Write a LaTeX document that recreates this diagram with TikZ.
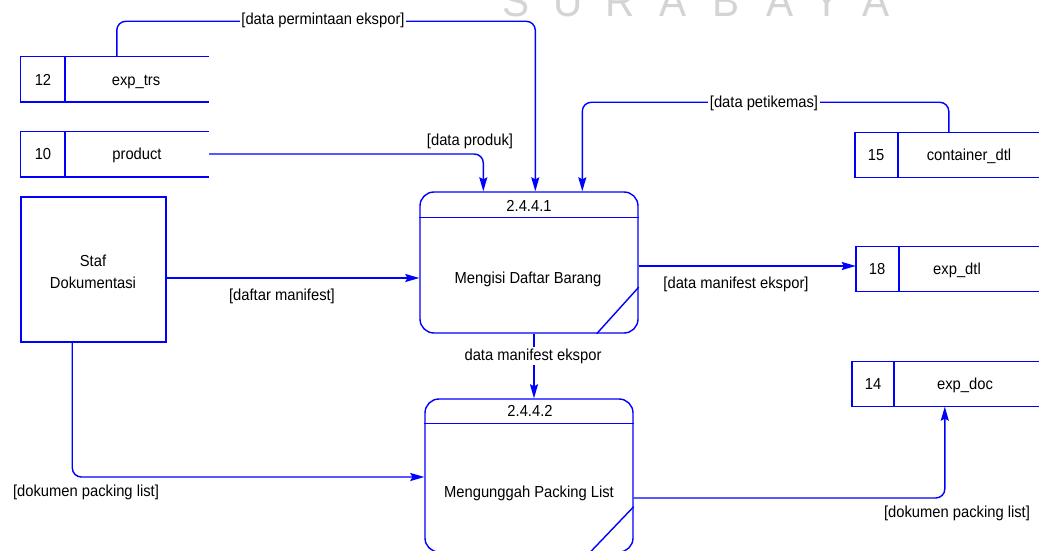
\documentclass[tikz,border=0pt]{standalone}
\usepackage{fontspec}
\setmainfont{Liberation Sans}[FakeStretch=0.925]
\usetikzlibrary{arrows.meta,calc}
\definecolor{dfd}{RGB}{0,0,255}
\definecolor{wm}{RGB}{212,212,212}
\begin{document}
\begin{tikzpicture}[x=1bp,y=-1bp,
  every node/.style={font=\fontsize{16}{18}\selectfont, inner sep=1bp, text=black, text height=11.5bp, text depth=0bp},
  ln/.style={draw=dfd, line width=1.4bp},
  flow/.style={ln, rounded corners=9bp, -{Stealth[length=14bp,width=8bp,inset=2bp]}},
  lbl/.style={fill=white, inner sep=1.5bp, text depth=3bp},
  proc/.style={ln, rounded corners=14bp, inner sep=0pt},
  store/.style={inner sep=0pt, minimum height=45bp},
  wmark/.style={font=\fontsize{44}{44}\selectfont, text=wm, anchor=base, inner sep=0pt, text height=32bp}
]
\useasboundingbox (0,0) rectangle (1039,551);
\clip (0,0) rectangle (1039,551);

% watermark
\node[wmark] (w1) at (516,17) {S};
\node[wmark] (w2) at (568,17) {U};
\node[wmark] (w3) at (620,17) {R};
\node[wmark] (w4) at (673,17) {A};
\node[wmark] (w5) at (726,17) {B};
\node[wmark] (w6) at (780,17) {A};
\node[wmark] (w7) at (827,17) {Y};
\node[wmark] (w8) at (876,17) {A};

% data stores
\node[store, minimum width=188bp] (s12) at (115,79.5) {};
\draw[ln] (s12.north east) -| (s12.south west) -- (s12.south east);
\draw[ln] ($(s12.north west)+(44,0)$) -- ($(s12.south west)+(44,0)$);
\node (s12n) at (43,80) {12};
\node (s12t) at (136,80) {exp\_trs};

\node[store, minimum width=188bp] (s10) at (115,154.5) {};
\draw[ln] (s10.north east) -| (s10.south west) -- (s10.south east);
\draw[ln] ($(s10.north west)+(44,0)$) -- ($(s10.south west)+(44,0)$);
\node (s10n) at (43,154) {10};
\node (s10t) at (137,154) {product};

\node[store, minimum width=200bp] (s15) at (955,155) {};
\draw[ln] (s15.north east) -| (s15.south west) -- (s15.south east);
\draw[ln] ($(s15.north west)+(43,0)$) -- ($(s15.south west)+(43,0)$);
\node (s15n) at (876,155) {15};
\node (s15t) at (969,155) {container\_dtl};

\node[store, minimum width=200bp] (s18) at (956,269) {};
\draw[ln] (s18.north east) -| (s18.south west) -- (s18.south east);
\draw[ln] ($(s18.north west)+(43,0)$) -- ($(s18.south west)+(43,0)$);
\node (s18n) at (877,269) {18};
\node (s18t) at (957,269) {exp\_dtl};

\node[store, minimum width=200bp] (s14) at (952,384) {};
\draw[ln] (s14.north east) -| (s14.south west) -- (s14.south east);
\draw[ln] ($(s14.north west)+(42,0)$) -- ($(s14.south west)+(42,0)$);
\node (s14n) at (873,384) {14};
\node (s14t) at (965,384) {exp\_doc};

% external entity
\node[ln, inner sep=0pt, minimum width=145bp, minimum height=145bp] (staf) at (93.5,269.5) {};
\node[align=center, font=\fontsize{16}{22}\selectfont] (staft) at (93,283) {Staf\\Dokumentasi};

% processes
\node[proc, minimum width=218bp, minimum height=141bp] (p1) at (529,262.5) {};
\draw[ln] ($(p1.north west)+(0,26)$) -- ($(p1.north east)+(0,26)$);
\draw[ln] ($(p1.south east)+(0,-46.5)$) -- ($(p1.south east)+(-42,0)$);
\node (p1id) at (529,206) {2.4.4.1};
\node (p1t) at (528,278) {Mengisi Daftar Barang};

\node[proc, minimum width=208bp, minimum height=153bp] (p2) at (529,475.5) {};
\draw[ln] ($(p2.north west)+(0,25)$) -- ($(p2.north east)+(0,25)$);
\draw[ln] ($(p2.south east)+(0,-46)$) -- ($(p2.south east)+(-44,0)$);
\node (p2id) at (530,411) {2.4.4.2};
\node (p2t) at (529,492) {Mengunggah Packing List};

% flows
\coordinate (c1a) at ($(s12.north west)+(96,0)$);
\coordinate (c1b) at ($(p1.north west)+(116,0)$);
\draw[flow] (c1a) |- ($(c1b)+(0,-170)$) -- (c1b);
\node[lbl] (l1) at (323,20) {[data permintaan ekspor]};

\coordinate (c2b) at ($(p1.north west)+(64,0)$);
\draw[flow] ($(s10.east)+(0,-0.5)$) -| (c2b);
\node (l2) at (470,140) {[data produk]};

\coordinate (c3a) at ($(s15.north west)+(94,0)$);
\coordinate (c3b) at ($(p1.north west)+(163,0)$);
\draw[flow] (c3a) |- ($(c3b)+(0,-89)$) -- (c3b);
\node[lbl] (l3) at (764,103) {[data petikemas]};

\coordinate (c4) at ($(staf.east)+(0,8.5)$);
\draw[flow] (c4) -- (c4 -| p1.west);
\node (l4) at (282,295) {[daftar manifest]};

\coordinate (c5) at ($(p1.east)+(0,3.5)$);
\draw[flow] (c5) -- (c5 -| s18.west);
\node (l5) at (736,283) {[data manifest ekspor]};

\coordinate (c6) at ($(p1.south)+(5,0)$);
\draw[flow] (c6) -- (c6 |- p2.north);
\node[lbl] (l6) at (533,356) {data manifest ekspor};

\coordinate (c7a) at ($(staf.south west)+(52,0)$);
\coordinate (c7b) at ($(p2.west)+(0,1.5)$);
\draw[flow] (c7a) |- (c7b);
\node (l7) at (86,491) {[dokumen packing list]};

\coordinate (c8a) at ($(p2.east)+(0,22.5)$);
\coordinate (c8b) at ($(s14.south west)+(93,0)$);
\draw[flow] (c8a) -| (c8b);
\node (l8) at (957,512) {[dokumen packing list]};
\end{tikzpicture}
\end{document}
